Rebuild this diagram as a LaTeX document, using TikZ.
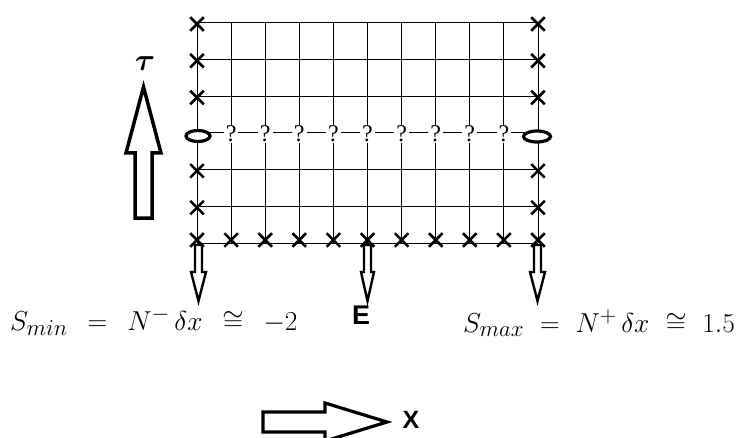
\documentclass[tikz,border=0pt]{standalone}
\usepackage{amsmath}
\usepackage{graphicx}
\usepackage{bm}
\usepackage{fontspec}
\newfontfamily\arialfont{Liberation Sans}
\newfontfamily\timesfont{Liberation Serif}
\usetikzlibrary{shapes.misc,shapes.geometric}
\tikzset{
  gridline/.style={line width=0.9pt},
  xmark/.style={cross out, draw, line width=2.6pt, minimum size=11pt, inner sep=0pt},
  qmark/.style={fill=white, inner xsep=2pt, inner ysep=0.5pt, font=\timesfont\fontsize{24}{24}\selectfont},
  ring/.style={ellipse, draw, line width=3.2pt, minimum width=24pt, minimum height=11pt, inner sep=0pt, fill=white},
  hollow/.style={draw, fill=white, line width=3pt, line join=miter},
  smallhollow/.style={draw, fill=white, line width=2.4pt, line join=miter},
  mathlbl/.style={font=\fontsize{24.88}{28}\selectfont, inner sep=0pt},
  boldlbl/.style={font=\arialfont\bfseries\fontsize{27}{30}\selectfont, inner sep=0pt}
}
\newcommand{\relgap}{\hspace{0.3em}}
\newcommand{\wgap}{\hspace{0.45em}}
\begin{document}
\begin{tikzpicture}[x=1pt,y=-1pt]
\useasboundingbox (0,0) rectangle (751,438);
\clip (0,0) rectangle (751,438);
% grid
\foreach \i in {0,...,10} {
  \draw[gridline] ({197+34.1*\i},22.7) -- ({197+34.1*\i},243);
}
\foreach \j in {0,...,6} {
  \draw[gridline] (197,{22.7+36.72*\j}) -- (538,{22.7+36.72*\j});
}
% question marks
\foreach \i in {1,...,9} {
  \node[qmark] (q\i) at ({197+34.1*\i},134) {?};
}
% rings
\node[ring] (ringL) at (198,136) {};
\node[ring, minimum width=27pt] (ringR) at (537,136.5) {};
% crosses on left and right columns
\foreach \j in {0,1,2,4,5} {
  \node[xmark] (xl\j) at (197,{24+36.72*\j}) {};
  \node[xmark] (xr\j) at (538,{24+36.72*\j}) {};
}
% bottom row crosses
\foreach \i in {0,...,10} {
  \node[xmark] (xb\i) at ({197+34.1*\i},240) {};
}
% tau arrow
\draw[hollow, line width=3.5pt] (135,218) -- (135,153) -- (126,153) -- (143.5,87) -- (161,153) -- (152,153) -- (152,218) -- cycle;
\node[font=\fontsize{24.88}{28}\selectfont, inner sep=0pt] (tau) at (145,64) {\scalebox{1.25}{$\bm{\tau}$}};
% down arrows
\draw[smallhollow] (195,245) -- (195,272) -- (191,272) -- (198.5,301) -- (206,272) -- (202,272) -- (202,245) -- cycle;
\draw[smallhollow] (364,245) -- (364,272) -- (361,272) -- (367.5,301) -- (374,272) -- (371,272) -- (371,245) -- cycle;
\draw[smallhollow] (534,245) -- (534,272) -- (530,272) -- (537.5,301) -- (545,272) -- (541,272) -- (541,245) -- cycle;
% labels
\node[mathlbl, anchor=base west] (smin) at (10,330) {\scalebox{1.1}{$S_{min}\wgap=\wgap N^{-}\,\delta x\wgap\cong\wgap -2$}};
\node[boldlbl] (E) at (361,315) {E};
\node[mathlbl, anchor=base west] (smax) at (463,332) {\scalebox{1.1}{$S_{max}\relgap=\relgap N^{+}\,\delta x\relgap\cong\relgap 1.5$}};
% x arrow
\draw[hollow, line width=3.2pt] (263,412) -- (325,412) -- (325,403) -- (387,422) -- (325,441) -- (325,432) -- (263,432) -- cycle;
\node[font=\arialfont\bfseries\fontsize{25}{28}\selectfont, inner sep=0pt] (X) at (411,420) {X};
\end{tikzpicture}
\end{document}
